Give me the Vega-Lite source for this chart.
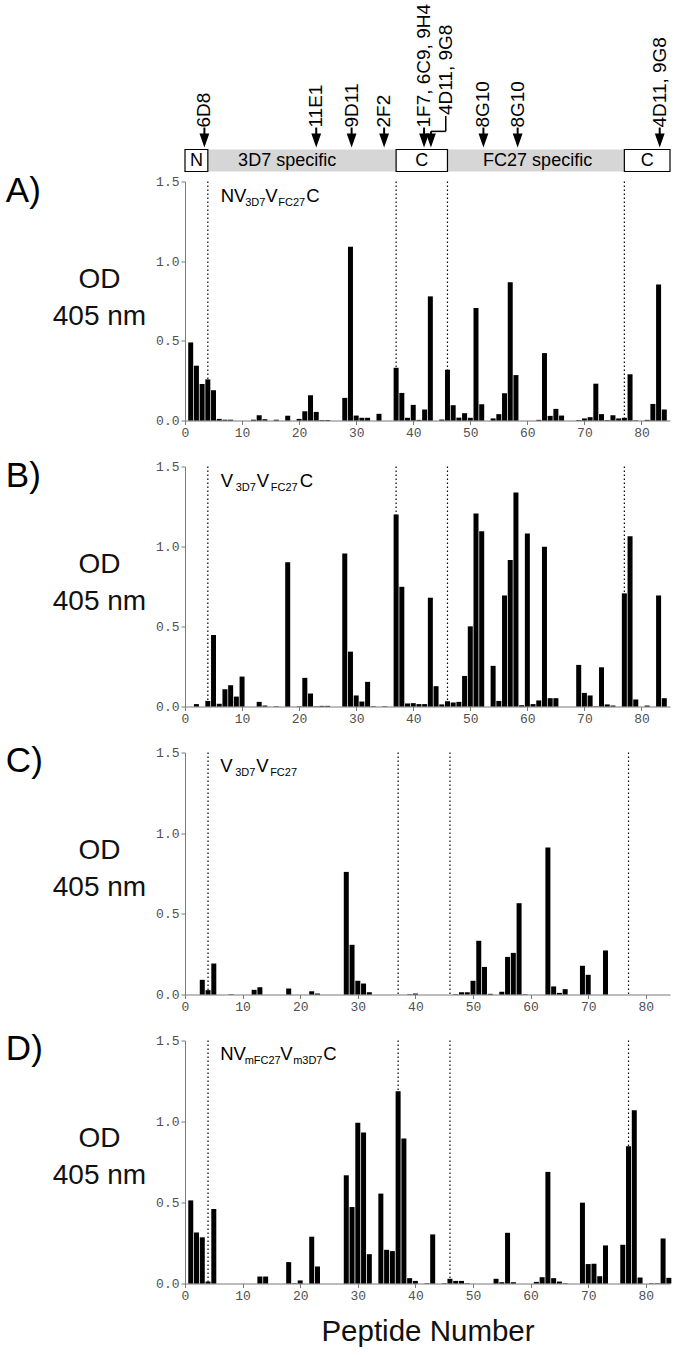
{
  "$schema": "https://vega.github.io/schema/vega-lite/v6.json",
  "background": "white",
  "padding": {"left": 5, "top": 3.5, "right": 2, "bottom": 2},
  "spacing": 46,
  "bounds": "flush",
  "config": {
    "view": {"stroke": null},
    "font": "Liberation Sans",
    "axis": {
      "grid": false,
      "domainColor": "#7a7a7a",
      "tickColor": "#7a7a7a",
      "tickSize": 4,
      "labelFont": "Liberation Mono",
      "labelFontSize": 13,
      "labelColor": "#505050",
      "labelPadding": 2,
      "titleFont": "Liberation Sans",
      "titleFontWeight": "normal",
      "titleColor": "#111111"
    }
  },
  "datasets": {
    "A": [
      {"p":1,"v":0.49},{"p":2,"v":0.344},{"p":3,"v":0.229},{"p":4,"v":0.258},{"p":5,"v":0.19},{"p":6,"v":0.01},{"p":7,"v":0.005},{"p":8,"v":0.005},{"p":12,"v":0.005},{"p":13,"v":0.033},{"p":14,"v":0.008},{"p":16,"v":0.005},{"p":18,"v":0.03},{"p":20,"v":0.01},{"p":21,"v":0.058},{"p":22,"v":0.158},{"p":23,"v":0.054},{"p":24,"v":0.003},{"p":25,"v":0.003},{"p":28,"v":0.142},{"p":29,"v":1.09},{"p":30,"v":0.031},{"p":31,"v":0.017},{"p":32,"v":0.017},{"p":34,"v":0.042},{"p":37,"v":0.331},{"p":38,"v":0.173},{"p":39,"v":0.017},{"p":40,"v":0.098},{"p":41,"v":0.004},{"p":42,"v":0.069},{"p":43,"v":0.779},{"p":45,"v":0.006},{"p":46,"v":0.319},{"p":47,"v":0.096},{"p":48,"v":0.018},{"p":49,"v":0.046},{"p":50,"v":0.017},{"p":51,"v":0.706},{"p":52,"v":0.102},{"p":54,"v":0.013},{"p":55,"v":0.04},{"p":56,"v":0.171},{"p":57,"v":0.867},{"p":58,"v":0.285},{"p":62,"v":0.004},{"p":63,"v":0.423},{"p":64,"v":0.029},{"p":65,"v":0.073},{"p":66,"v":0.031},{"p":69,"v":0.003},{"p":70,"v":0.013},{"p":71,"v":0.021},{"p":72,"v":0.231},{"p":73,"v":0.04},{"p":74,"v":0.003},{"p":75,"v":0.033},{"p":76,"v":0.013},{"p":77,"v":0.017},{"p":78,"v":0.29},{"p":79,"v":0.002},{"p":81,"v":0.004},{"p":82,"v":0.104},{"p":83,"v":0.854},{"p":84,"v":0.069}
    ],
    "B": [
      {"p":2,"v":0.015},{"p":4,"v":0.035},{"p":5,"v":0.447},{"p":6,"v":0.017},{"p":7,"v":0.108},{"p":8,"v":0.133},{"p":9,"v":0.062},{"p":10,"v":0.187},{"p":13,"v":0.029},{"p":14,"v":0.006},{"p":16,"v":0.002},{"p":18,"v":0.902},{"p":20,"v":0.002},{"p":21,"v":0.179},{"p":22,"v":0.081},{"p":23,"v":0.002},{"p":24,"v":0.004},{"p":25,"v":0.004},{"p":28,"v":0.956},{"p":29,"v":0.343},{"p":30,"v":0.069},{"p":31,"v":0.031},{"p":32,"v":0.154},{"p":33,"v":0.002},{"p":35,"v":0.002},{"p":37,"v":1.2},{"p":38,"v":0.748},{"p":39,"v":0.019},{"p":40,"v":0.021},{"p":41,"v":0.015},{"p":42,"v":0.015},{"p":43,"v":0.68},{"p":44,"v":0.127},{"p":45,"v":0.013},{"p":46,"v":0.033},{"p":47,"v":0.025},{"p":48,"v":0.029},{"p":49,"v":0.191},{"p":50,"v":0.501},{"p":51,"v":1.206},{"p":52,"v":1.096},{"p":54,"v":0.254},{"p":55,"v":0.035},{"p":56,"v":0.694},{"p":57,"v":0.915},{"p":58,"v":1.337},{"p":59,"v":0.008},{"p":60,"v":1.081},{"p":61,"v":0.015},{"p":62,"v":0.038},{"p":63,"v":0.998},{"p":64,"v":0.052},{"p":65,"v":0.052},{"p":69,"v":0.26},{"p":70,"v":0.085},{"p":71,"v":0.069},{"p":72,"v":0.002},{"p":73,"v":0.245},{"p":74,"v":0.013},{"p":75,"v":0.006},{"p":77,"v":0.707},{"p":78,"v":1.064},{"p":79,"v":0.044},{"p":81,"v":0.006},{"p":83,"v":0.694},{"p":84,"v":0.052}
    ],
    "C": [
      {"p":3,"v":0.091},{"p":4,"v":0.027},{"p":5,"v":0.192},{"p":8,"v":0.002},{"p":12,"v":0.029},{"p":13,"v":0.045},{"p":18,"v":0.037},{"p":22,"v":0.02},{"p":23,"v":0.006},{"p":28,"v":0.76},{"p":29,"v":0.308},{"p":30,"v":0.085},{"p":31,"v":0.068},{"p":32,"v":0.014},{"p":39,"v":0.002},{"p":40,"v":0.006},{"p":47,"v":0.002},{"p":48,"v":0.014},{"p":49,"v":0.014},{"p":50,"v":0.085},{"p":51,"v":0.333},{"p":52,"v":0.171},{"p":53,"v":0.004},{"p":55,"v":0.017},{"p":56,"v":0.233},{"p":57,"v":0.258},{"p":58,"v":0.566},{"p":59,"v":0.002},{"p":63,"v":0.911},{"p":64,"v":0.05},{"p":65,"v":0.01},{"p":66,"v":0.033},{"p":69,"v":0.178},{"p":70,"v":0.122},{"p":73,"v":0.273}
    ],
    "D": [
      {"p":1,"v":0.513},{"p":2,"v":0.315},{"p":3,"v":0.285},{"p":4,"v":0.012},{"p":5,"v":0.46},{"p":13,"v":0.043},{"p":14,"v":0.043},{"p":18,"v":0.132},{"p":19,"v":0.002},{"p":20,"v":0.019},{"p":22,"v":0.289},{"p":23,"v":0.105},{"p":28,"v":0.668},{"p":29,"v":0.472},{"p":30,"v":0.992},{"p":31,"v":0.932},{"p":32,"v":0.181},{"p":34,"v":0.555},{"p":35,"v":0.208},{"p":36,"v":0.2},{"p":37,"v":1.186},{"p":38,"v":0.895},{"p":39,"v":0.033},{"p":40,"v":0.016},{"p":42,"v":0.002},{"p":43,"v":0.303},{"p":45,"v":0.002},{"p":46,"v":0.029},{"p":47,"v":0.016},{"p":48,"v":0.016},{"p":49,"v":0.002},{"p":54,"v":0.029},{"p":55,"v":0.008},{"p":56,"v":0.313},{"p":57,"v":0.008},{"p":61,"v":0.01},{"p":62,"v":0.039},{"p":63,"v":0.689},{"p":64,"v":0.033},{"p":65,"v":0.012},{"p":66,"v":0.002},{"p":69,"v":0.499},{"p":70,"v":0.12},{"p":71,"v":0.122},{"p":72,"v":0.045},{"p":73,"v":0.235},{"p":76,"v":0.239},{"p":77,"v":0.847},{"p":78,"v":1.07},{"p":79,"v":0.037},{"p":81,"v":0.002},{"p":82,"v":0.002},{"p":83,"v":0.278},{"p":84,"v":0.035}
    ],
    "regions": [
      {"region":"3D7 specific","kind":"variable","start":4,"end":37,"label_at":17.9},
      {"region":"FC27 specific","kind":"variable","start":46,"end":77,"label_at":61.8},
      {"region":"N","kind":"conserved","start":0,"end":4,"label_at":2},
      {"region":"C","kind":"conserved","start":37,"end":46,"label_at":41.5},
      {"region":"C","kind":"conserved","start":77,"end":85,"label_at":81}
    ],
    "epitopes": [
      {"mab":"6D8","site":3.4,"label_at":3.4},
      {"mab":"11E1","site":23,"label_at":23},
      {"mab":"9D11","site":29.2,"label_at":29.2},
      {"mab":"2F2","site":34.9,"label_at":34.9},
      {"mab":"1F7, 6C9, 9H4","site":41.9,"label_at":41.9},
      {"mab":"4D11, 9G8","site":43.1,"label_at":45.7},
      {"mab":"8G10","site":52.3,"label_at":52.3},
      {"mab":"8G10","site":58.3,"label_at":58.3},
      {"mab":"4D11, 9G8","site":83.2,"label_at":83.2}
    ],
    "labels": [
      {"panel":"A","part":0,"text":"A)"},{"panel":"A","part":1,"text":"NV"},{"panel":"A","part":2,"text":"3D7"},{"panel":"A","part":3,"text":"V"},{"panel":"A","part":4,"text":"FC27"},{"panel":"A","part":5,"text":"C"},
      {"panel":"B","part":0,"text":"B)"},{"panel":"B","part":1,"text":"V"},{"panel":"B","part":2,"text":"3D7"},{"panel":"B","part":3,"text":"V"},{"panel":"B","part":4,"text":"FC27"},{"panel":"B","part":5,"text":"C"},
      {"panel":"C","part":0,"text":"C)"},{"panel":"C","part":1,"text":"V"},{"panel":"C","part":2,"text":"3D7"},{"panel":"C","part":3,"text":"V"},{"panel":"C","part":4,"text":"FC27"},
      {"panel":"D","part":0,"text":"D)"},{"panel":"D","part":1,"text":"NV"},{"panel":"D","part":2,"text":"mFC27"},{"panel":"D","part":3,"text":"V"},{"panel":"D","part":4,"text":"m3D7"},{"panel":"D","part":5,"text":"C"}
    ]
  },
  "vconcat": [
    {
      "width": 485, "height": 239,
      "resolve": {"scale": {"y": "independent"}},
      "layer": [
        {
          "layer": [
            {"data": {"name": "A"}, "mark": {"type": "bar", "width": 5, "fill": "#000000"},
             "encoding": {
               "x": {"field": "p", "type": "quantitative", "scale": {"domain": [0, 85], "nice": false, "zero": false, "padding": 0}, "axis": {"values": [0,10,20,30,40,50,60,70,80], "format": "d", "title": null, "labelFlush": false}},
               "y": {"field": "v", "type": "quantitative", "scale": {"domain": [0, 1.5], "nice": false}, "axis": {"values": [0,0.5,1,1.5], "format": ".1f", "title": ["OD", "405 nm"], "titleAngle": 0, "titleAlign": "center", "titleBaseline": "alphabetic", "titleX": -86, "titleY": 106, "titleFontSize": 28, "titleLineHeight": 37}}
             }},
            {"data": {"name": "regions"}, "transform": [{"filter": "datum.end < 85"}], "mark": {"type": "rule", "strokeDash": [1.5, 2.5], "strokeWidth": 1.2, "color": "#000000"},
             "encoding": {"x": {"field": "end", "type": "quantitative"}}},
            {"data": {"name": "labels"}, "transform": [{"filter": "datum.panel == 'A' && datum.part == 0"}], "mark": {"type": "text", "align": "left", "baseline": "alphabetic", "fontSize": 35, "color": "#000000"},
             "encoding": {"x": {"datum": -31.4, "scale": {"domain": [0, 85], "nice": false, "zero": false, "padding": 0}}, "y": {"datum": 1.37}, "text": {"field": "text"}}},
            {"data": {"name": "labels"}, "transform": [{"filter": "datum.panel == 'A' && datum.part == 1"}], "mark": {"type": "text", "align": "left", "baseline": "alphabetic", "fontSize": 18.5, "dx": 0},
             "encoding": {"x": {"datum": 6.26}, "y": {"datum": 1.37}, "text": {"field": "text"}}},
            {"data": {"name": "labels"}, "transform": [{"filter": "datum.panel == 'A' && datum.part == 2"}], "mark": {"type": "text", "align": "left", "baseline": "alphabetic", "fontSize": 11, "dx": 24.5, "dy": 4},
             "encoding": {"x": {"datum": 6.26}, "y": {"datum": 1.37}, "text": {"field": "text"}}},
            {"data": {"name": "labels"}, "transform": [{"filter": "datum.panel == 'A' && datum.part == 3"}], "mark": {"type": "text", "align": "left", "baseline": "alphabetic", "fontSize": 18.5, "dx": 44.5},
             "encoding": {"x": {"datum": 6.26}, "y": {"datum": 1.37}, "text": {"field": "text"}}},
            {"data": {"name": "labels"}, "transform": [{"filter": "datum.panel == 'A' && datum.part == 4"}], "mark": {"type": "text", "align": "left", "baseline": "alphabetic", "fontSize": 11, "dx": 57.5, "dy": 4},
             "encoding": {"x": {"datum": 6.26}, "y": {"datum": 1.37}, "text": {"field": "text"}}},
            {"data": {"name": "labels"}, "transform": [{"filter": "datum.panel == 'A' && datum.part == 5"}], "mark": {"type": "text", "align": "left", "baseline": "alphabetic", "fontSize": 18.5, "dx": 85.5},
             "encoding": {"x": {"datum": 6.26}, "y": {"datum": 1.37}, "text": {"field": "text"}}}
          ]
        },
        {
          "layer": [
            {"data": {"name": "regions"}, "mark": {"type": "rect", "strokeWidth": 1.2},
             "encoding": {
               "x": {"field": "start", "type": "quantitative"},
               "x2": {"field": "end"},
               "y": {"datum": 0, "scale": {"domain": [0, 172], "range": [-10, -182]}, "axis": null},
               "y2": {"datum": 23},
               "fill": {"field": "kind", "type": "nominal", "scale": {"domain": ["conserved", "variable"], "range": ["#ffffff", "#d6d6d6"]}, "legend": null},
               "stroke": {"condition": {"test": "datum.kind == 'conserved'", "value": "#000000"}, "value": "transparent"}
             }},
            {"data": {"name": "regions"}, "mark": {"type": "text", "align": "center", "baseline": "alphabetic", "fontSize": 18, "color": "#000000"},
             "encoding": {"x": {"field": "label_at", "type": "quantitative"}, "y": {"datum": 5.5, "axis": null}, "text": {"field": "region"}}},
            {"data": {"name": "epitopes"}, "transform": [{"filter": "datum.label_at == datum.site"}], "mark": {"type": "rule", "strokeWidth": 2, "color": "#000000"},
             "encoding": {"x": {"field": "site", "type": "quantitative"}, "y": {"datum": 30, "axis": null}, "y2": {"datum": 46}}},
            {"data": {"name": "epitopes"}, "transform": [{"filter": "datum.label_at != datum.site"}], "mark": {"type": "rule", "strokeWidth": 2, "color": "#000000"},
             "encoding": {"x": {"field": "site", "type": "quantitative"}, "y": {"datum": 30, "axis": null}, "y2": {"datum": 42}}},
            {"data": {"name": "epitopes"}, "transform": [{"filter": "datum.label_at != datum.site"}], "mark": {"type": "rule", "strokeWidth": 1.5, "color": "#000000"},
             "encoding": {"x": {"field": "site", "type": "quantitative"}, "x2": {"field": "label_at"}, "y": {"datum": 42, "axis": null}}},
            {"data": {"name": "epitopes"}, "transform": [{"filter": "datum.label_at != datum.site"}], "mark": {"type": "rule", "strokeWidth": 1.5, "color": "#000000"},
             "encoding": {"x": {"field": "label_at", "type": "quantitative"}, "y": {"datum": 42, "axis": null}, "y2": {"datum": 58}}},
            {"data": {"name": "epitopes"}, "mark": {"type": "point", "shape": "M-0.7,-2L0.7,-2L0,0Z", "filled": true, "size": 196, "color": "#000000", "opacity": 1},
             "encoding": {"x": {"field": "site", "type": "quantitative"}, "y": {"datum": 25, "axis": null}}},
            {"data": {"name": "epitopes"}, "transform": [{"filter": "datum.label_at == datum.site"}], "mark": {"type": "text", "angle": 270, "align": "left", "baseline": "middle", "fontSize": 19, "color": "#000000"},
             "encoding": {"x": {"field": "label_at", "type": "quantitative"}, "y": {"datum": 46, "axis": null}, "text": {"field": "mab"}}},
            {"data": {"name": "epitopes"}, "transform": [{"filter": "datum.label_at != datum.site"}], "mark": {"type": "text", "angle": 270, "align": "left", "baseline": "middle", "fontSize": 19, "color": "#000000"},
             "encoding": {"x": {"field": "label_at", "type": "quantitative"}, "y": {"datum": 59, "axis": null}, "text": {"field": "mab"}}}
          ]
        }
      ]
    },
    {
      "width": 485, "height": 240,
      "layer": [
        {"data": {"name": "B"}, "mark": {"type": "bar", "width": 5, "fill": "#000000"},
         "encoding": {
           "x": {"field": "p", "type": "quantitative", "scale": {"domain": [0, 85], "nice": false, "zero": false, "padding": 0}, "axis": {"values": [0,10,20,30,40,50,60,70,80], "format": "d", "title": null, "labelFlush": false}},
           "y": {"field": "v", "type": "quantitative", "scale": {"domain": [0, 1.5], "nice": false}, "axis": {"values": [0,0.5,1,1.5], "format": ".1f", "title": ["OD", "405 nm"], "titleAngle": 0, "titleAlign": "center", "titleBaseline": "alphabetic", "titleX": -86, "titleY": 106, "titleFontSize": 28, "titleLineHeight": 37}}
         }},
        {"data": {"name": "regions"}, "transform": [{"filter": "datum.end < 85"}], "mark": {"type": "rule", "strokeDash": [1.5, 2.5], "strokeWidth": 1.2, "color": "#000000"},
         "encoding": {"x": {"field": "end", "type": "quantitative"}}},
        {"data": {"name": "labels"}, "transform": [{"filter": "datum.panel == 'B' && datum.part == 0"}], "mark": {"type": "text", "align": "left", "baseline": "alphabetic", "fontSize": 35, "color": "#000000"},
         "encoding": {"x": {"datum": -31.4, "scale": {"domain": [0, 85], "nice": false, "zero": false, "padding": 0}}, "y": {"datum": 1.37}, "text": {"field": "text"}}},
        {"data": {"name": "labels"}, "transform": [{"filter": "datum.panel == 'B' && datum.part == 1"}], "mark": {"type": "text", "align": "left", "baseline": "alphabetic", "fontSize": 18.5, "dx": 0},
         "encoding": {"x": {"datum": 6.26}, "y": {"datum": 1.37}, "text": {"field": "text"}}},
        {"data": {"name": "labels"}, "transform": [{"filter": "datum.panel == 'B' && datum.part == 2"}], "mark": {"type": "text", "align": "left", "baseline": "alphabetic", "fontSize": 11, "dx": 15, "dy": 4},
         "encoding": {"x": {"datum": 6.26}, "y": {"datum": 1.37}, "text": {"field": "text"}}},
        {"data": {"name": "labels"}, "transform": [{"filter": "datum.panel == 'B' && datum.part == 3"}], "mark": {"type": "text", "align": "left", "baseline": "alphabetic", "fontSize": 18.5, "dx": 36},
         "encoding": {"x": {"datum": 6.26}, "y": {"datum": 1.37}, "text": {"field": "text"}}},
        {"data": {"name": "labels"}, "transform": [{"filter": "datum.panel == 'B' && datum.part == 4"}], "mark": {"type": "text", "align": "left", "baseline": "alphabetic", "fontSize": 11, "dx": 50, "dy": 4},
         "encoding": {"x": {"datum": 6.26}, "y": {"datum": 1.37}, "text": {"field": "text"}}},
        {"data": {"name": "labels"}, "transform": [{"filter": "datum.panel == 'B' && datum.part == 5"}], "mark": {"type": "text", "align": "left", "baseline": "alphabetic", "fontSize": 18.5, "dx": 79},
         "encoding": {"x": {"datum": 6.26}, "y": {"datum": 1.37}, "text": {"field": "text"}}}
      ]
    },
    {
      "width": 485, "height": 242,
      "layer": [
        {"data": {"name": "C"}, "mark": {"type": "bar", "width": 5, "fill": "#000000"},
         "encoding": {
           "x": {"field": "p", "type": "quantitative", "scale": {"domain": [0, 84.2], "nice": false, "zero": false, "padding": 0}, "axis": {"values": [0,10,20,30,40,50,60,70,80], "format": "d", "title": null, "labelFlush": false}},
           "y": {"field": "v", "type": "quantitative", "scale": {"domain": [0, 1.5], "nice": false}, "axis": {"values": [0,0.5,1,1.5], "format": ".1f", "title": ["OD", "405 nm"], "titleAngle": 0, "titleAlign": "center", "titleBaseline": "alphabetic", "titleX": -86, "titleY": 106, "titleFontSize": 28, "titleLineHeight": 37}}
         }},
        {"data": {"name": "regions"}, "transform": [{"filter": "datum.end < 85"}], "mark": {"type": "rule", "strokeDash": [1.5, 2.5], "strokeWidth": 1.2, "color": "#000000"},
         "encoding": {"x": {"field": "end", "type": "quantitative"}}},
        {"data": {"name": "labels"}, "transform": [{"filter": "datum.panel == 'C' && datum.part == 0"}], "mark": {"type": "text", "align": "left", "baseline": "alphabetic", "fontSize": 35, "color": "#000000"},
         "encoding": {"x": {"datum": -31.1, "scale": {"domain": [0, 84.2], "nice": false, "zero": false, "padding": 0}}, "y": {"datum": 1.38}, "text": {"field": "text"}}},
        {"data": {"name": "labels"}, "transform": [{"filter": "datum.panel == 'C' && datum.part == 1"}], "mark": {"type": "text", "align": "left", "baseline": "alphabetic", "fontSize": 18.5, "dx": 0},
         "encoding": {"x": {"datum": 6.1}, "y": {"datum": 1.38}, "text": {"field": "text"}}},
        {"data": {"name": "labels"}, "transform": [{"filter": "datum.panel == 'C' && datum.part == 2"}], "mark": {"type": "text", "align": "left", "baseline": "alphabetic", "fontSize": 11, "dx": 15, "dy": 4},
         "encoding": {"x": {"datum": 6.1}, "y": {"datum": 1.38}, "text": {"field": "text"}}},
        {"data": {"name": "labels"}, "transform": [{"filter": "datum.panel == 'C' && datum.part == 3"}], "mark": {"type": "text", "align": "left", "baseline": "alphabetic", "fontSize": 18.5, "dx": 36},
         "encoding": {"x": {"datum": 6.1}, "y": {"datum": 1.38}, "text": {"field": "text"}}},
        {"data": {"name": "labels"}, "transform": [{"filter": "datum.panel == 'C' && datum.part == 4"}], "mark": {"type": "text", "align": "left", "baseline": "alphabetic", "fontSize": 11, "dx": 50, "dy": 4},
         "encoding": {"x": {"datum": 6.1}, "y": {"datum": 1.38}, "text": {"field": "text"}}}
      ]
    },
    {
      "width": 485, "height": 243,
      "layer": [
        {"data": {"name": "D"}, "mark": {"type": "bar", "width": 5, "fill": "#000000"},
         "encoding": {
           "x": {"field": "p", "type": "quantitative", "scale": {"domain": [0, 84.2], "nice": false, "zero": false, "padding": 0}, "axis": {"values": [0,10,20,30,40,50,60,70,80], "format": "d", "title": "Peptide Number", "titleFontSize": 29.5, "titlePadding": 15, "labelFlush": false}},
           "y": {"field": "v", "type": "quantitative", "scale": {"domain": [0, 1.5], "nice": false}, "axis": {"values": [0,0.5,1,1.5], "format": ".1f", "title": ["OD", "405 nm"], "titleAngle": 0, "titleAlign": "center", "titleBaseline": "alphabetic", "titleX": -86, "titleY": 106, "titleFontSize": 28, "titleLineHeight": 37}}
         }},
        {"data": {"name": "regions"}, "transform": [{"filter": "datum.end < 85"}], "mark": {"type": "rule", "strokeDash": [1.5, 2.5], "strokeWidth": 1.2, "color": "#000000"},
         "encoding": {"x": {"field": "end", "type": "quantitative"}}},
        {"data": {"name": "labels"}, "transform": [{"filter": "datum.panel == 'D' && datum.part == 0"}], "mark": {"type": "text", "align": "left", "baseline": "alphabetic", "fontSize": 35, "color": "#000000"},
         "encoding": {"x": {"datum": -31.1, "scale": {"domain": [0, 84.2], "nice": false, "zero": false, "padding": 0}}, "y": {"datum": 1.38}, "text": {"field": "text"}}},
        {"data": {"name": "labels"}, "transform": [{"filter": "datum.panel == 'D' && datum.part == 1"}], "mark": {"type": "text", "align": "left", "baseline": "alphabetic", "fontSize": 18.5, "dx": 0},
         "encoding": {"x": {"datum": 6.1}, "y": {"datum": 1.38}, "text": {"field": "text"}}},
        {"data": {"name": "labels"}, "transform": [{"filter": "datum.panel == 'D' && datum.part == 2"}], "mark": {"type": "text", "align": "left", "baseline": "alphabetic", "fontSize": 11, "dx": 24.5, "dy": 4},
         "encoding": {"x": {"datum": 6.1}, "y": {"datum": 1.38}, "text": {"field": "text"}}},
        {"data": {"name": "labels"}, "transform": [{"filter": "datum.panel == 'D' && datum.part == 3"}], "mark": {"type": "text", "align": "left", "baseline": "alphabetic", "fontSize": 18.5, "dx": 60},
         "encoding": {"x": {"datum": 6.1}, "y": {"datum": 1.38}, "text": {"field": "text"}}},
        {"data": {"name": "labels"}, "transform": [{"filter": "datum.panel == 'D' && datum.part == 4"}], "mark": {"type": "text", "align": "left", "baseline": "alphabetic", "fontSize": 11, "dx": 73, "dy": 4},
         "encoding": {"x": {"datum": 6.1}, "y": {"datum": 1.38}, "text": {"field": "text"}}},
        {"data": {"name": "labels"}, "transform": [{"filter": "datum.panel == 'D' && datum.part == 5"}], "mark": {"type": "text", "align": "left", "baseline": "alphabetic", "fontSize": 18.5, "dx": 103},
         "encoding": {"x": {"datum": 6.1}, "y": {"datum": 1.38}, "text": {"field": "text"}}}
      ]
    }
  ]
}
